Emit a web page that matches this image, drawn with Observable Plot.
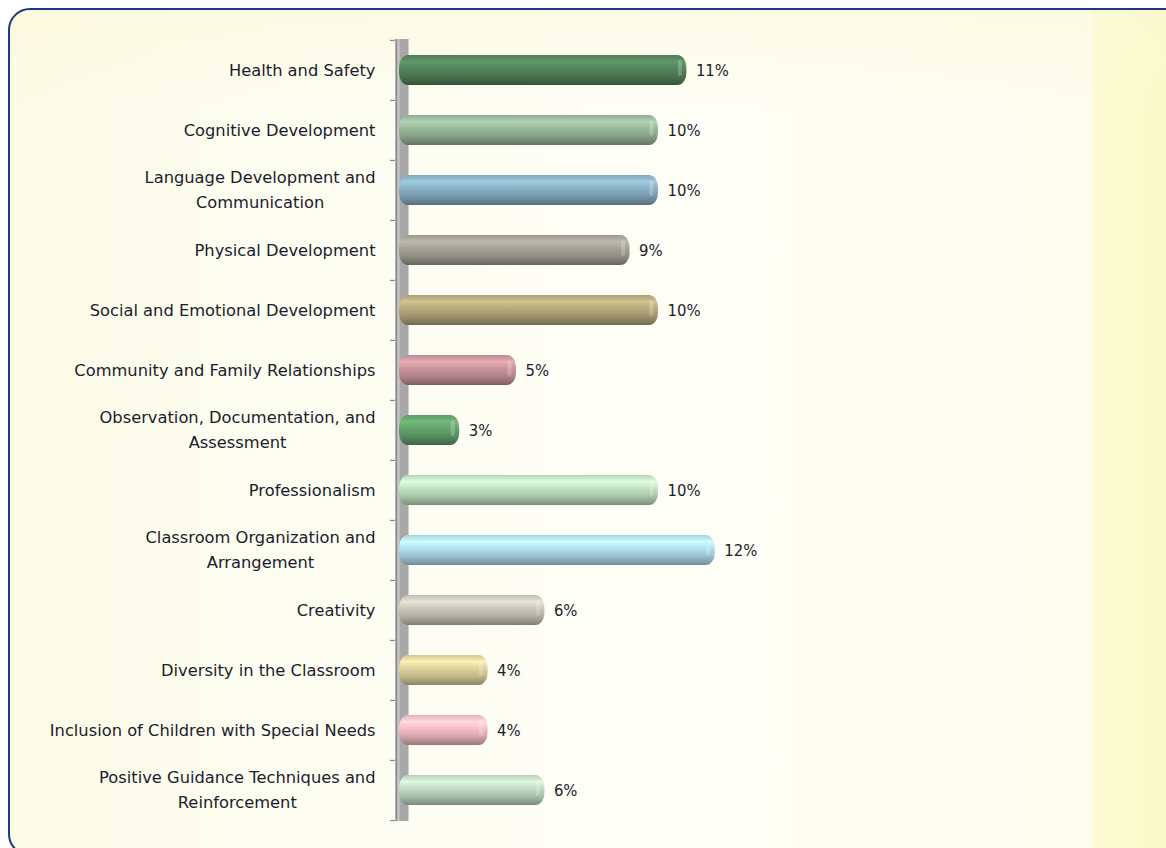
<!DOCTYPE html>
<html>
<head>
<meta charset="utf-8">
<script src="https://cdn.jsdelivr.net/npm/d3@7"></script>
<script src="https://cdn.jsdelivr.net/npm/@observablehq/plot@0.6"></script>
<style>
html, body { margin: 0; padding: 0; background: #ffffff; }
#wrap { position: relative; width: 1166px; height: 848px; overflow: hidden; }
#panel {
  position: absolute; left: 8px; top: 8px; width: 1200px; height: 848px;
  box-sizing: border-box; border: 2.5px solid #1d3a7c; border-radius: 22px;
  background:
    linear-gradient(180deg, rgba(251,248,214,0.5) 0%, rgba(255,255,255,0) 12%),
    linear-gradient(90deg, #fcfbe6 0%, #fdfdf1 20%, #fefef7 55%, #fdfdef 90.5%, #fcfbd2 90.6%, #fbf9c6 100%);
}
#chart { position: absolute; left: 0; top: 0; }
</style>
</head>
<body>
<div id="wrap">
  <div id="panel"></div>
  <div id="chart"></div>
</div>
<script>
// ---------- data ----------
const categories = [
  "Health and Safety",
  "Cognitive Development",
  "Language Development and\nCommunication",
  "Physical Development",
  "Social and Emotional Development",
  "Community and Family Relationships",
  "Observation, Documentation, and\nAssessment",
  "Professionalism",
  "Classroom Organization and\nArrangement",
  "Creativity",
  "Diversity in the Classroom",
  "Inclusion of Children with Special Needs",
  "Positive Guidance Techniques and\nReinforcement"
];
const values = [11, 10, 10, 9, 10, 5, 3, 10, 12, 6, 4, 4, 6];
const barColors = [
  "#53835a", "#98b69a", "#88afc2", "#a3a195", "#b5a87c", "#c8949b", "#62a16a",
  "#bfe0c0", "#b0dcec", "#c8c6ba", "#dcd09c", "#f2bcc4", "#c0d9c2"
];

// ---------- layout ----------
const width = 1166, height = 848;
const marginTop = 39, marginBottom = 27, marginLeft = 374, marginRight = 82;
const axisStart = 0.74;
const step = (height - marginTop - marginBottom) / categories.length;
const labelFont = "DejaVu Sans";
const labelSize = 16.3;
const valueFont = "DejaVu Sans Condensed, DejaVu Sans";
const textColor = "#1c1c2c";

const rows = categories.map((c, i) => ({category: c, value: values[i], color: barColors[i]}));

// gradient definitions (cylinder look)
const defsMark = () => {
  const defs = d3.create("svg:defs");
  rows.forEach((d, i) => {
    const c = d3.color(d.color);
    const g = defs.append("linearGradient")
      .attr("id", `bar-grad-${i}`)
      .attr("x1", 0).attr("y1", 0).attr("x2", 0).attr("y2", 1);
    const stops = [
      [0, c.darker(0.15)],
      [0.22, c.brighter(0.4)],
      [0.42, c.brighter(0.08)],
      [0.7, c.darker(0.35)],
      [0.9, c.darker(0.9)],
      [1, c.darker(1.3)]
    ];
    stops.forEach(([o, col]) => g.append("stop").attr("offset", o).attr("stop-color", col.formatHex()));
  });
  return defs.node();
};

// label width measurement for two-line labels
const ctx = document.createElement("canvas").getContext("2d");
ctx.font = `${labelSize}px "${labelFont}"`;
const blockWidth = (s) => d3.max(s.split("\n"), (line) => ctx.measureText(line).width);

const labelCommon = {
  y: "category",
  text: "category",
  fontFamily: labelFont,
  fontSize: labelSize,
  fill: textColor,
  lineHeight: 1.55,
  dy: -3
};

const singleLabels = Plot.text(rows.filter((d) => !d.category.includes("\n")), {
  ...labelCommon,
  x: () => axisStart,
  textAnchor: "end",
  dx: -20
});

const multiLabels = rows.filter((d) => d.category.includes("\n")).map((d) =>
  Plot.text([d], {
    ...labelCommon,
    x: () => axisStart,
    textAnchor: "middle",
    dx: -20 - blockWidth(d.category) / 2
  })
);

const chart = Plot.plot({
  width, height, marginTop, marginBottom, marginLeft, marginRight,
  style: {background: "transparent", overflow: "visible"},
  x: {axis: null, domain: [0, 25]},
  y: {axis: null, domain: categories, paddingInner: 0.5, paddingOuter: 0.25},
  color: {type: "identity"},
  marks: [
    defsMark,
    // category wall
    Plot.ruleX([axisStart], {stroke: "#a8a8a8", strokeWidth: 13, dx: 6.5}),
    Plot.ruleX([axisStart], {stroke: "#c9c9c9", strokeWidth: 2, dx: 3}),
    Plot.ruleX([axisStart], {stroke: "#8c8c8c", strokeWidth: 1.5, dx: 0.75}),
    // tick marks at category boundaries
    Plot.ruleY(categories, {y: (d) => d, dy: -step / 2, x1: axisStart - 0.18, x2: axisStart, stroke: "#8a8a8a", strokeWidth: 1.2}),
    Plot.ruleY([categories[categories.length - 1]], {y: (d) => d, dy: step / 2, x1: axisStart - 0.18, x2: axisStart, stroke: "#8a8a8a", strokeWidth: 1.2}),
    // bars
    Plot.barX(rows, {
      y: "category", x1: () => axisStart, x2: "value",
      fill: (d, i) => `url(#bar-grad-${i})`,
      insetLeft: 4, rx: 9, ry: 12
    }),
    // specular highlight near the rounded end
    Plot.tickX(rows, {
      x: "value", y: "category", dx: -7,
      stroke: "#ffffff", strokeOpacity: 0.22, strokeWidth: 4,
      insetTop: 7, insetBottom: 11, strokeLinecap: "round"
    }),
    // value labels
    Plot.text(rows, {
      x: "value", y: "category", text: (d) => `${d.value}%`,
      dx: 9, textAnchor: "start",
      fontFamily: valueFont, fontSize: 16.5, fill: textColor
    }),
    singleLabels,
    ...multiLabels
  ]
});

document.getElementById("chart").appendChild(chart);
</script>
</body>
</html>
